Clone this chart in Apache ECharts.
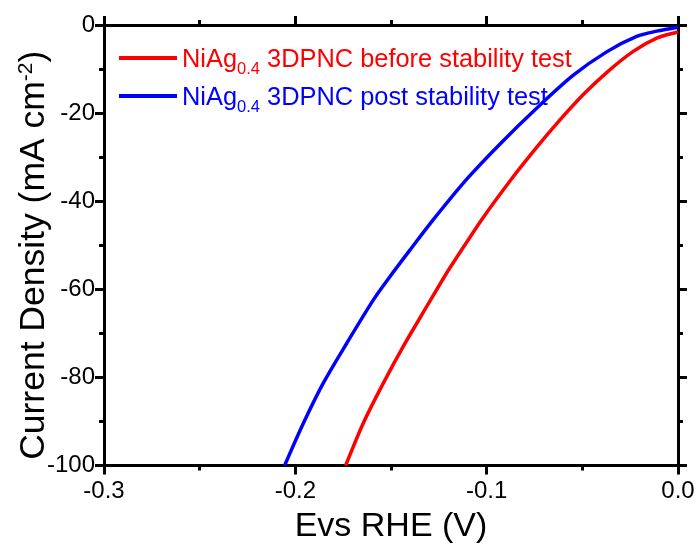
<!DOCTYPE html>
<html>
<head>
<meta charset="utf-8">
<script src="https://cdn.jsdelivr.net/npm/echarts@6/dist/echarts.min.js"></script>
<style>
html,body{margin:0;padding:0;background:#fff;}
#c{width:699px;height:545px;}
</style>
</head>
<body>
<div id="c"></div>
<script>
const seriesNames = ['NiAg0.4 3DPNC before stability test', 'NiAg0.4 3DPNC post stability test'];
const beforeX = [-0.1737, -0.1645, -0.1540, -0.1427, -0.1313, -0.1209, -0.1157, -0.1018, -0.0878, -0.0739, -0.0626, -0.0495, -0.0373, -0.0234, -0.0111, 0.0];
const beforeY = [-100, -90.4, -81.3, -72.3, -63.9, -56.3, -52.8, -43.7, -35.4, -27.8, -22.0, -15.8, -10.8, -6.0, -3.0, -1.6];
const postX = [-0.2056, -0.1958, -0.1854, -0.1732, -0.1592, -0.1505, -0.1401, -0.1279, -0.1104, -0.0930, -0.0739, -0.0547, -0.0373, -0.0216, -0.0111, 0.0];
const postY = [-100, -90.4, -81.3, -72.3, -62.4, -57.1, -51.1, -44.2, -35.0, -27.0, -18.9, -11.4, -6.1, -2.6, -1.4, -0.5];
const xTicks = [-0.3, -0.2, -0.1, 0.0];
const yTicks = [-100, -80, -60, -40, -20, 0];

const FONT = '"Liberation Sans", Arial, sans-serif';
const zip = (xs, ys) => xs.map((x, i) => [x, ys[i]]);

const chart = echarts.init(document.getElementById('c'), null, {renderer: 'canvas'});
const axisCommon = {
  type: 'value',
  axisLine: {show: true, onZero: false, lineStyle: {color: '#000', width: 3}},
  axisTick: {show: true, inside: false, length: 9, lineStyle: {color: '#000', width: 3}},
  minorTick: {show: true, splitNumber: 2, length: 5, lineStyle: {color: '#000', width: 3}},
  splitLine: {show: false},
  minorSplitLine: {show: false}
};
const xRange = {min: xTicks[0], max: xTicks[xTicks.length - 1], interval: 0.1};
const yRange = {min: yTicks[0], max: yTicks[yTicks.length - 1], interval: 20};

chart.setOption({
  animation: false,
  backgroundColor: '#fff',
  grid: {left: 104, right: 21, top: 25, bottom: 79.5, containLabel: false, outerBoundsMode: 'none'},
  legend: {
    orient: 'vertical',
    left: 119,
    top: 47,
    padding: 0,
    itemWidth: 58,
    itemHeight: 4,
    itemGap: 7,
    icon: 'rect',
    data: [
      {name: seriesNames[0], textStyle: {color: '#ff0000'}},
      {name: seriesNames[1], textStyle: {color: '#0000ff'}}
    ],
    formatter: function (name) {
      const k = name === seriesNames[0] ? 'r' : 'b';
      const rest = name.replace('NiAg0.4', '');
      return '{' + k + 'n|NiAg}{' + k + 's|0.4}{' + k + 'n|' + rest + '}';
    },
    textStyle: {
      fontFamily: FONT,
      fontSize: 25.4,
      padding: [0, 0, 0, 0],
      rich: {
        rn: {color: '#ff0000', fontFamily: FONT, fontSize: 25.4, lineHeight: 28, verticalAlign: 'bottom'},
        rs: {color: '#ff0000', fontFamily: FONT, fontSize: 16.5, lineHeight: 28, verticalAlign: 'bottom', padding: [0, 0, -6, 0]},
        bn: {color: '#0000ff', fontFamily: FONT, fontSize: 25.4, lineHeight: 28, verticalAlign: 'bottom'},
        bs: {color: '#0000ff', fontFamily: FONT, fontSize: 16.5, lineHeight: 28, verticalAlign: 'bottom', padding: [0, 0, -6, 0]}
      }
    }
  },
  xAxis: [
    Object.assign({}, axisCommon, xRange, {
      position: 'bottom',
      name: 'Evs RHE (V)',
      nameLocation: 'middle',
      nameGap: 44,
      nameMoveOverlap: false,
      nameTextStyle: {fontFamily: FONT, fontSize: 34, color: '#000'},
      axisLabel: {show: true, fontFamily: FONT, fontSize: 24, color: '#000', margin: 14,
        formatter: v => v.toFixed(1)}
    }),
    Object.assign({}, axisCommon, xRange, {
      position: 'top',
      axisLabel: {show: false}
    })
  ],
  yAxis: [
    Object.assign({}, axisCommon, yRange, {
      position: 'left',
      name: 'Current Density (mA cm{sup|-2})',
      nameLocation: 'middle',
      nameGap: 52,
      nameMoveOverlap: false,
      nameRotate: 90,
      nameTextStyle: {fontFamily: FONT, fontSize: 35.5, color: '#000', padding: [0, 20, 0, 0],
        rich: {sup: {fontFamily: FONT, fontSize: 21, color: '#000', verticalAlign: 'top', lineHeight: 35, padding: [0,0,12,0]}}},
      axisLabel: {show: true, fontFamily: FONT, fontSize: 24, color: '#000', margin: 9,
        formatter: v => String(v)}
    }),
    Object.assign({}, axisCommon, yRange, {
      position: 'right',
      axisLabel: {show: false}
    })
  ],
  series: [
    {
      name: seriesNames[0], type: 'line', xAxisIndex: 0, yAxisIndex: 0,
      data: zip(beforeX, beforeY), showSymbol: false, symbol: 'none', smooth: 0.3,
      lineStyle: {color: '#ff0000', width: 3.5}, itemStyle: {color: '#ff0000'}
    },
    {
      name: seriesNames[1], type: 'line', xAxisIndex: 0, yAxisIndex: 0,
      data: zip(postX, postY), showSymbol: false, symbol: 'none', smooth: 0.3,
      lineStyle: {color: '#0000ff', width: 3.5}, itemStyle: {color: '#0000ff'}
    }
  ]
});
</script>
</body>
</html>
